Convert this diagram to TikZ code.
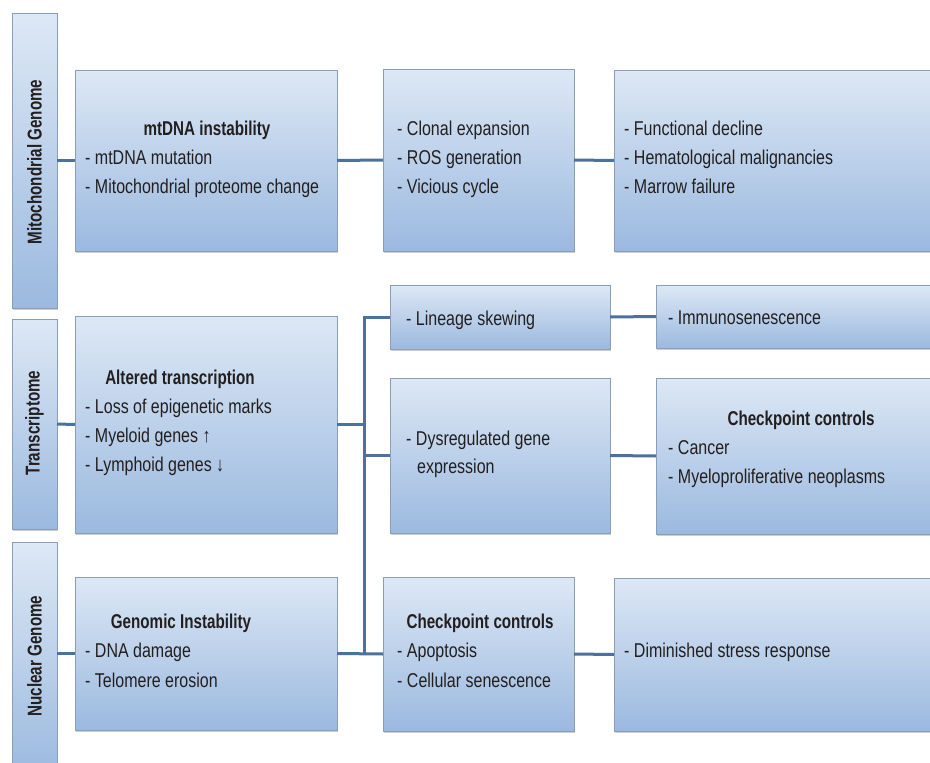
\documentclass[tikz,border=0pt]{standalone}
\usepackage{fontspec}
\setmainfont{Liberation Sans}[FakeStretch=0.8]
\newfontfamily\titlefont{Liberation Sans}[FakeStretch=0.76]
\usetikzlibrary{shadows}
\definecolor{boxtop}{HTML}{DDE8F5}
\definecolor{boxbot}{HTML}{9BB9DF}
\definecolor{boxborder}{HTML}{8A9EB8}
\definecolor{conncol}{HTML}{4C719C}
\definecolor{textcol}{HTML}{231F20}
\begin{document}
\begin{tikzpicture}[x=1pt,y=-1pt,
  box/.style={rectangle, draw=boxborder, line width=0.8pt, top color=boxtop, bottom color=boxbot,
    anchor=north west, inner sep=0pt, outer sep=0pt,
    drop shadow={shadow xshift=1.2pt, shadow yshift=-1.6pt, opacity=0.35, fill=black!55}},
  txt/.style={anchor=base west, inner sep=0pt, font=\fontsize{20}{22}\selectfont, text=textcol},
  ttl/.style={anchor=base, inner sep=0pt, font=\titlefont\bfseries\fontsize{20}{22}\selectfont, text=textcol},
  sidelbl/.style={anchor=center, rotate=90, inner sep=0pt, font=\titlefont\bfseries\fontsize{20}{22}\selectfont, text=textcol},
  conn/.style={draw=conncol, line width=3pt}]
\clip (0,0) rectangle (930,763);
\fill[white] (0,0) rectangle (930,763);

% side bars
\node[box, minimum width=45pt, minimum height=295pt] (sb1) at (12,13) {};
\node[box, minimum width=45pt, minimum height=210pt] (sb2) at (12,319) {};
\node[box, minimum width=45pt, minimum height=235pt] (sb3) at (12,542) {};
\node[sidelbl] (sl1) at (34.5,162) {Mitochondrial Genome};
\node[sidelbl] (sl2) at (34.5,423) {Transcriptome};
\node[sidelbl] (sl3) at (34.5,656) {Nuclear Genome};

% boxes
\node[box, minimum width=262pt, minimum height=181pt] (mt) at (75,70) {};
\node[box, minimum width=191pt, minimum height=182pt] (cl) at (383,69) {};
\node[box, minimum width=330pt, minimum height=181pt] (fd) at (614,70) {};
\node[box, minimum width=262pt, minimum height=217pt] (alt) at (75,316) {};
\node[box, minimum width=220pt, minimum height=64pt] (lin) at (390,285) {};
\node[box, minimum width=220pt, minimum height=155pt] (dys) at (390,378) {};
\node[box, minimum width=290pt, minimum height=63pt] (imm) at (656,285) {};
\node[box, minimum width=290pt, minimum height=156pt] (cpr) at (656,378) {};
\node[box, minimum width=262pt, minimum height=153pt] (gen) at (75,577) {};
\node[box, minimum width=191pt, minimum height=154pt] (cpm) at (383,577) {};
\node[box, minimum width=330pt, minimum height=153pt] (dim) at (614,578) {};

% connectors
\coordinate (vx) at (364,0);
\draw[conn] (sb1.east) -- (mt.west);
\draw[conn] (mt.east) -- (cl.west);
\draw[conn] (cl.east) -- (fd.west);
\draw[conn] (sb2.east) -- (alt.west);
\draw[conn] (alt.east) -- (alt.east -| vx);
\draw[conn] (lin.west) -- (lin.west -| vx) -- (gen.east -| vx);
\draw[conn] (dys.west) -- (dys.west -| vx);
\draw[conn] (gen.east) -- (cpm.west);
\draw[conn] (sb3.east |- gen.west) -- (gen.west);
\draw[conn] (cpm.east) -- (dim.west);
\draw[conn] (lin.east) -- (imm.west);
\draw[conn] (dys.east) -- (cpr.west);

% texts: mitochondrial row
\node[ttl] (t1) at (207,135) {mtDNA instability};
\node[txt] (t1a) at (85,164) {- mtDNA mutation};
\node[txt] (t1b) at (85,193) {- Mitochondrial proteome change};
\node[txt] (t2a) at (397,135) {- Clonal expansion};
\node[txt] (t2b) at (397,164) {- ROS generation};
\node[txt] (t2c) at (397,193) {- Vicious cycle};
\node[txt] (t3a) at (624,135) {- Functional decline};
\node[txt] (t3b) at (624,164) {- Hematological malignancies};
\node[txt] (t3c) at (624,193) {- Marrow failure};

% transcriptome row
\node[ttl] (t4) at (180,384) {Altered transcription};
\node[txt] (t4a) at (85,413) {- Loss of epigenetic marks};
\node[txt] (t4b) at (85,442) {- Myeloid genes ↑};
\node[txt] (t4c) at (85,471) {- Lymphoid genes ↓};
\node[txt] (t5a) at (406,325) {- Lineage skewing};
\node[txt] (t6a) at (406,445) {- Dysregulated gene};
\node[txt] (t6b) at (417,473) {expression};
\node[txt] (t7a) at (668,324) {- Immunosenescence};
\node[ttl] (t8) at (801,425) {Checkpoint controls};
\node[txt] (t8a) at (668,454) {- Cancer};
\node[txt] (t8b) at (668,483) {- Myeloproliferative neoplasms};

% nuclear row
\node[ttl] (t9) at (181,628) {Genomic Instability};
\node[txt] (t9a) at (85,657) {- DNA damage};
\node[txt] (t9b) at (85,687) {- Telomere erosion};
\node[ttl] (t10) at (480,628) {Checkpoint controls};
\node[txt] (t10a) at (397,657) {- Apoptosis};
\node[txt] (t10b) at (397,687) {- Cellular senescence};
\node[txt] (t11a) at (624,657) {- Diminished stress response};
\end{tikzpicture}
\end{document}
